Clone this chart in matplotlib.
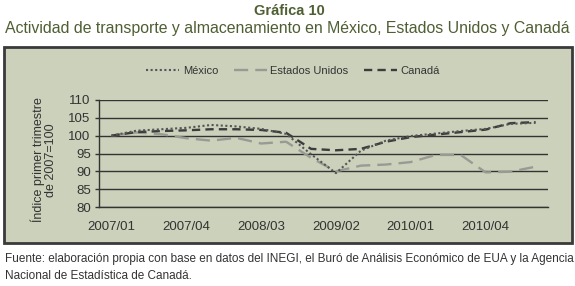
import matplotlib
matplotlib.use("Agg")
import matplotlib.pyplot as plt
from matplotlib.patches import Rectangle

plt.rcParams['font.family'] = ['Liberation Sans', 'DejaVu Sans']

quarters = ["2007/01", "2007/02", "2007/03", "2007/04", "2008/01", "2008/02",
            "2008/03", "2008/04", "2009/01", "2009/02", "2009/03", "2009/04",
            "2010/01", "2010/02", "2010/03", "2010/04", "2011/01", "2011/02"]
mexico = [100.0, 101.4, 101.8, 102.2, 103.0, 102.6, 101.9, 100.5, 94.8, 89.5,
          95.8, 98.6, 99.9, 100.6, 101.3, 101.9, 103.3, 103.6]
estados_unidos = [100.0, 100.9, 100.4, 99.3, 98.6, 99.4, 97.8, 98.3, 93.8, 90.0,
                  91.6, 91.9, 92.6, 94.6, 94.6, 89.7, 89.9, 91.3]
canada = [100.0, 101.0, 101.3, 101.5, 101.8, 101.8, 101.6, 100.8, 96.3, 95.9,
          96.3, 98.3, 99.6, 100.3, 101.0, 101.7, 103.5, 103.8]
tick_labels = ["2007/01", "2007/04", "2008/03", "2009/02", "2010/01", "2010/04"]
yticks = [80, 85, 90, 95, 100, 105, 110]

W, H = 575, 286
fig = plt.figure(figsize=(W / 100, H / 100), dpi=100)
fig.patch.set_facecolor("white")

box_color = "#cbd1bb"
rect = Rectangle((4 / W, 1 - 243 / H), 568 / W, (243 - 47) / H,
                 transform=fig.transFigure, facecolor=box_color,
                 edgecolor="#3a3a3a", linewidth=2.0, zorder=-5)
fig.add_artist(rect)

ax = fig.add_axes([99 / W, 1 - 207 / H, (548 - 99) / W, (207 - 100) / H])
ax.set_zorder(2)
ax.set_facecolor("none")

x = list(range(len(quarters)))
l1, = ax.plot(x, mexico, color="#555555", linestyle=(0, (1, 1.2)), linewidth=1.5,
              label="México", zorder=4)
l2, = ax.plot(x, estados_unidos, color="#9a9a94", linestyle=(0, (6, 3)), linewidth=1.7,
              label="Estados Unidos", zorder=3)
l3, = ax.plot(x, canada, color="#3c3c3c", linestyle=(0, (3.5, 2.2)), linewidth=1.7,
              label="Canadá", zorder=3)

ax.set_xlim(-0.5, len(quarters) - 0.5)
ax.set_ylim(80, 110)
ax.set_yticks(yticks)
ax.set_yticklabels([str(v) for v in yticks], fontsize=9.5, color="#333333")
tick_pos = [quarters.index(t) for t in tick_labels]
ax.set_xticks(tick_pos)
ax.set_xticklabels(tick_labels, fontsize=9.5, color="#333333")
ax.tick_params(axis="x", length=0, pad=10)
ax.tick_params(axis="y", length=3, width=1, color="#333333", pad=3)
ax.grid(axis="y", color="#333333", linewidth=1.0)
ax.set_axisbelow(True)
for s in ["top", "right"]:
    ax.spines[s].set_visible(False)
for s in ["left", "bottom"]:
    ax.spines[s].set_color("#333333")
    ax.spines[s].set_linewidth(1.0)

fig.legend(handles=[l1, l2, l3], loc="center", ncol=3,
           bbox_to_anchor=(293 / W, 1 - 71 / H), frameon=False,
           fontsize=8, handlelength=3.0, columnspacing=1.4, handletextpad=0.3,
           labelcolor="#333333")

fig.text(44 / W, 1 - 160 / H, "Índice primer trimestre\nde 2007=100", rotation=90,
         ha="center", va="center", fontsize=9, color="#333333", linespacing=1.05)

fig.text(0.503, 1 - 11 / H, "Gráfica 10", ha="center", va="center",
         fontsize=10.5, fontweight="bold", color="#4f5f33")
fig.text(0.5, 1 - 28 / H,
         "Actividad de transporte y almacenamiento en México, Estados Unidos y Canadá",
         ha="center", va="center", fontsize=11.4, color="#4f5f33")

fig.text(5 / W, 1 - 259 / H,
         "Fuente: elaboración propia con base en datos del INEGI, el Buró de Análisis Económico de EUA y la Agencia",
         ha="left", va="center", fontsize=8.45, color="#333333")
fig.text(5 / W, 1 - 276 / H, "Nacional de Estadística de Canadá.",
         ha="left", va="center", fontsize=8.45, color="#333333")

fig.savefig("out.png", dpi=100, facecolor="white")
